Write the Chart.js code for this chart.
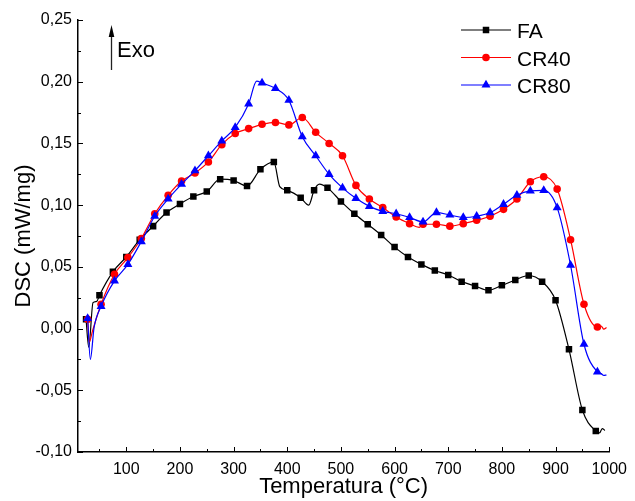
<!DOCTYPE html>
<html><head><meta charset="utf-8">
<script src="https://cdn.jsdelivr.net/npm/chart.js@4/dist/chart.umd.min.js"></script>
<style>html,body{margin:0;padding:0;background:#fff}#wrap{width:635px;height:501px;position:relative}</style>
</head><body><div id="wrap"><canvas id="c" width="635" height="501"></canvas></div>
<script>
// ---- data ----
const seriesNames = ['FA', 'CR40', 'CR80'];

const faTemps = [25,50,75,100,125,150,175,200,225,250,275,300,325,350,375,400,425,450,475,500,525,550,575,600,625,650,675,700,725,750,775,800,825,850,875,900,925,950,975];
const faValues = [0.0075,0.027,0.046,0.058,0.072,0.083,0.094,0.101,0.107,0.111,0.121,0.120,0.1155,0.129,0.135,0.112,0.106,0.112,0.114,0.103,0.093,0.0845,0.0758,0.066,0.058,0.052,0.047,0.0434,0.038,0.0345,0.031,0.035,0.0394,0.043,0.038,0.023,-0.0168,-0.066,-0.083];
const faExtraTemps = [30,38,45,386,440,460,982,987,992];
const faExtraValues = [-0.015,0.021,0.022,0.115,0.100,0.117,-0.0845,-0.081,-0.0825];

const cr40Temps = [28,53,78,103,128,153,178,203,228,253,278,303,328,353,378,403,428,453,478,503,528,553,578,603,628,653,678,703,728,753,778,803,828,853,878,903,928,953,978];
const cr40Values = [0.0075,0.0197,0.044,0.0575,0.073,0.093,0.108,0.1196,0.126,0.135,0.149,0.158,0.162,0.1655,0.167,0.165,0.171,0.159,0.150,0.140,0.116,0.105,0.098,0.0904,0.085,0.0845,0.0845,0.083,0.085,0.0877,0.091,0.0966,0.105,0.119,0.123,0.113,0.072,0.0197,0.0013];
const cr40ExtraTemps = [31,37,646,985,990,995];
const cr40ExtraValues = [-0.011,-0.002,0.082,0.002,-0.0005,0.0008];

const cr80Temps = [28,53,78,103,128,153,178,203,228,253,278,303,328,353,378,403,428,453,478,503,528,553,578,603,628,653,678,703,728,753,778,803,828,853,878,903,928,953,978];
const cr80Values = [0.0083,0.018,0.0386,0.052,0.0705,0.091,0.105,0.117,0.128,0.140,0.152,0.163,0.182,0.199,0.1945,0.185,0.1555,0.140,0.125,0.114,0.1055,0.099,0.095,0.093,0.090,0.0864,0.094,0.092,0.090,0.091,0.094,0.1007,0.108,0.1115,0.112,0.098,0.0513,-0.0127,-0.0352];
const cr80ExtraTemps = [33,40,343,985,990,995];
const cr80ExtraValues = [-0.025,0.001,0.2005,-0.0365,-0.038,-0.0376];

const xTickValues = [100,200,300,400,500,600,700,800,900,1000];
const yTickValues = [-0.10,-0.05,0.00,0.05,0.10,0.15,0.20,0.25];

// ---- build ----
function buildPoints(t, v, et, ev) {
  const pts = t.map((x, i) => ({x: x, y: v[i], m: true}))
    .concat(et.map((x, i) => ({x: x, y: ev[i], m: false})));
  pts.sort((a, b) => a.x - b.x);
  return pts;
}
const styles = [
  {color: '#000000', pointStyle: 'rect', r: 4.6},
  {color: '#ff0000', pointStyle: 'circle', r: 3.8},
  {color: '#0000ff', pointStyle: 'triangle', r: 5.2}
];
const pointSets = [
  buildPoints(faTemps, faValues, faExtraTemps, faExtraValues),
  buildPoints(cr40Temps, cr40Values, cr40ExtraTemps, cr40ExtraValues),
  buildPoints(cr80Temps, cr80Values, cr80ExtraTemps, cr80ExtraValues)
];
const drawOrder = [2, 1, 0];
const datasets = seriesNames.map((name, i) => ({
  label: name,
  data: pointSets[i],
  borderColor: styles[i].color,
  backgroundColor: styles[i].color,
  borderWidth: 1.2,
  cubicInterpolationMode: 'monotone',
  pointStyle: styles[i].pointStyle,
  pointRadius: ctx => (ctx.raw && ctx.raw.m) ? styles[i].r : 0,
  pointBorderWidth: 0,
  pointHoverRadius: 0,
  order: drawOrder[i]
}));

const FONT = '"Liberation Sans", Arial, sans-serif';

function drawMarker(ctx, style, x, y, r, color) {
  ctx.fillStyle = color;
  ctx.beginPath();
  if (style === 'rect') {
    const s = r * Math.SQRT1_2;
    ctx.rect(x - s, y - s, 2 * s, 2 * s);
  } else if (style === 'circle') {
    ctx.arc(x, y, r, 0, Math.PI * 2);
  } else {
    ctx.moveTo(x, y - r);
    ctx.lineTo(x + r * Math.sin(Math.PI / 3), y + r * 0.5);
    ctx.lineTo(x - r * Math.sin(Math.PI / 3), y + r * 0.5);
    ctx.closePath();
  }
  ctx.fill();
}

const decorPlugin = {
  id: 'decor',
  afterDraw(chart) {
    const ctx = chart.ctx, xs = chart.scales.x, ys = chart.scales.y, a = chart.chartArea;
    ctx.save();
    ctx.strokeStyle = '#000';
    ctx.lineWidth = 1;
    // inward ticks on x axis
    for (let k = 1; k <= 20; k++) {
      const v = k * 50;
      const px = Math.round(xs.getPixelForValue(v)) + 0.5;
      const len = (k % 2 === 0) ? 5 : 3;
      ctx.beginPath(); ctx.moveTo(px, a.bottom); ctx.lineTo(px, a.bottom - len); ctx.stroke();
    }
    // inward ticks on y axis
    for (let k = -4; k <= 10; k++) {
      const v = k * 0.025;
      const py = Math.round(ys.getPixelForValue(v)) + 0.5;
      const len = (k % 2 === 0) ? 5 : 3;
      ctx.beginPath(); ctx.moveTo(a.left, py); ctx.lineTo(a.left + len, py); ctx.stroke();
    }
    // legend
    const legY = [30, 57.5, 85];
    chart.data.datasets.forEach((ds, i) => {
      const y = legY[i];
      ctx.strokeStyle = ds.borderColor;
      ctx.lineWidth = 1.2;
      ctx.beginPath(); ctx.moveTo(461, y); ctx.lineTo(511, y); ctx.stroke();
      drawMarker(ctx, styles[i].pointStyle, 486, y, styles[i].r, ds.borderColor);
      ctx.fillStyle = '#000';
      ctx.font = '21px ' + FONT;
      ctx.textBaseline = 'alphabetic';
      ctx.textAlign = 'left';
      ctx.fillText(ds.label, 517, y + 8);
    });
    // Exo arrow
    ctx.strokeStyle = '#222';
    ctx.lineWidth = 1.3;
    ctx.beginPath(); ctx.moveTo(111.5, 70); ctx.lineTo(111.5, 34); ctx.stroke();
    ctx.fillStyle = '#000';
    ctx.beginPath(); ctx.moveTo(111.5, 25); ctx.lineTo(114.3, 37); ctx.lineTo(108.7, 37); ctx.closePath(); ctx.fill();
    ctx.font = '22px ' + FONT;
    ctx.textBaseline = 'alphabetic';
    ctx.textAlign = 'left';
    ctx.fillText('Exo', 117, 57);
    ctx.restore();
  }
};

const fmt = v => (Math.round(v * 100) / 100).toFixed(2).replace('.', ',').replace('-0,00', '0,00');

new Chart(document.getElementById('c'), {
  type: 'line',
  data: {datasets: datasets},
  plugins: [decorPlugin],
  options: {
    responsive: false,
    animation: false,
    events: [],
    layout: {padding: {top: 20, right: 18, left: 0, bottom: 0}},
    plugins: {legend: {display: false}, tooltip: {enabled: false}},
    scales: {
      x: {
        type: 'linear',
        min: 10, max: 1000,
        afterFit: s => { s.height = 49; },
        afterBuildTicks: s => { s.ticks = xTickValues.map(v => ({value: v})); },
        grid: {display: true, drawOnChartArea: false, drawTicks: false},
        border: {display: true, color: '#000', width: 1.5},
        ticks: {color: '#000', font: {family: FONT, size: 16}, padding: 8, maxRotation: 0, autoSkip: false,
          callback: v => String(v)},
        title: {display: true, text: 'Temperatura (°C)', color: '#000', font: {family: FONT, size: 22}, padding: {top: 0, bottom: 1}}
      },
      y: {
        type: 'linear',
        min: -0.10, max: 0.25,
        afterFit: s => { s.width = 78; },
        afterBuildTicks: s => { s.ticks = yTickValues.map(v => ({value: v})); },
        grid: {display: true, drawOnChartArea: false, drawTicks: false},
        border: {display: true, color: '#000', width: 1.5},
        ticks: {color: '#000', font: {family: FONT, size: 16}, padding: 6, autoSkip: false,
          callback: v => fmt(v)},
        title: {display: true, text: 'DSC (mW/mg)', color: '#000', font: {family: FONT, size: 22}, padding: {top: 11, bottom: 0}}
      }
    }
  }
});
</script></body></html>
